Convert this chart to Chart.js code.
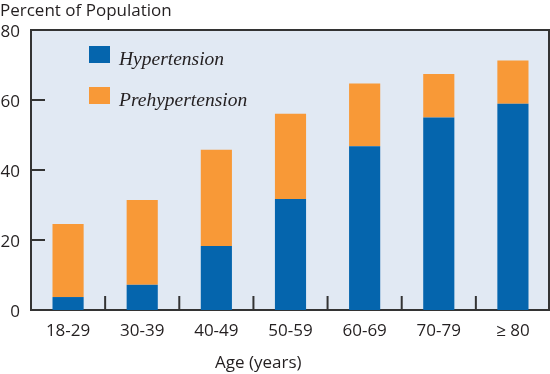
<!DOCTYPE html>
<html lang="en">
<head>
    <meta charset="UTF-8">
    <title>Hypertension by Age</title>
    <script src="https://cdn.jsdelivr.net/npm/chart.js@4/dist/chart.umd.min.js"></script>
    <style>
        html, body { margin: 0; padding: 0; background: #fff; }
        #wrap { width: 550px; height: 374px; }
    </style>
</head>
<body>
    <div id="wrap"><canvas id="bpChart"></canvas></div>

    <script>
        // Data
        const ageGroups = ['18-29', '30-39', '40-49', '50-59', '60-69', '70-79', '\u2265 80'];
        const hypertension = [3.7, 7.2, 18.3, 31.7, 46.8, 55.0, 58.9];
        const prehypertension = [20.9, 24.2, 27.5, 24.4, 17.9, 12.4, 12.4];
        const yTicks = [0, 20, 40, 60, 80];

        const textColor = '#231f20';
        const axisColor = '#333333';

        // plot background, frame, inner tick marks, legend and axis titles
        const decorations = {
            id: 'decorations',
            beforeDraw(chart) {
                const { ctx, chartArea: a } = chart;
                ctx.save();
                ctx.fillStyle = '#e1e9f3';
                ctx.fillRect(a.left, a.top, a.right - a.left, a.bottom - a.top);
                ctx.restore();
            },
            afterDraw(chart) {
                const { ctx, chartArea: a } = chart;
                const x = chart.scales.x, y = chart.scales.y;
                ctx.save();
                ctx.strokeStyle = axisColor;
                ctx.lineWidth = 2;
                // top + right frame
                const r = Math.min(a.right, chart.width - 1);
                ctx.beginPath();
                ctx.moveTo(a.left, a.top);
                ctx.lineTo(r, a.top);
                ctx.lineTo(r, a.bottom);
                ctx.stroke();
                // y tick marks pointing into the plot
                yTicks.slice(1, -1).forEach(v => {
                    const py = y.getPixelForValue(v);
                    ctx.beginPath();
                    ctx.moveTo(a.left, py);
                    ctx.lineTo(a.left + 14, py);
                    ctx.stroke();
                });
                // x tick marks between categories
                for (let i = 0; i < ageGroups.length - 1; i++) {
                    const px = (x.getPixelForValue(i) + x.getPixelForValue(i + 1)) / 2;
                    ctx.beginPath();
                    ctx.moveTo(px, a.bottom);
                    ctx.lineTo(px, a.bottom - 14);
                    ctx.stroke();
                }
                // legend inside the plot
                ctx.font = 'italic 19.5px "Liberation Serif", "Times New Roman", serif';
                ctx.textBaseline = 'alphabetic';
                chart.data.datasets.forEach((ds, i) => {
                    const top = 46 + i * 41;
                    ctx.fillStyle = ds.backgroundColor;
                    ctx.fillRect(89, top, 21, 17);
                    ctx.fillStyle = textColor;
                    ctx.fillText(ds.label, 119, top + 18.5);
                });
                // axis titles
                ctx.font = '17px "Open Sans", sans-serif';
                ctx.fillStyle = textColor;
                ctx.fillText('Percent of Population', 0, 16);
                ctx.fillText('Age (years)', 215, 368);
                ctx.restore();
            }
        };

        new Chart(document.getElementById('bpChart'), {
            type: 'bar',
            data: {
                labels: ageGroups,
                datasets: [{
                    label: 'Hypertension',
                    data: hypertension,
                    backgroundColor: '#0565ad',
                    barPercentage: 0.42,
                    categoryPercentage: 1
                }, {
                    label: 'Prehypertension',
                    data: prehypertension,
                    backgroundColor: '#f89937',
                    barPercentage: 0.42,
                    categoryPercentage: 1
                }]
            },
            options: {
                responsive: true,
                maintainAspectRatio: false,
                animation: false,
                layout: { padding: { top: 30, right: -8, bottom: 32, left: 0 } },
                plugins: {
                    legend: { display: false },
                    tooltip: { enabled: false }
                },
                scales: {
                    x: {
                        stacked: true,
                        afterFit: s => { s.height = 32; },
                        grid: { display: false, drawTicks: false },
                        border: { display: true, color: axisColor, width: 2 },
                        ticks: {
                            color: textColor,
                            padding: 11,
                            maxRotation: 0,
                            font: { family: '"Open Sans", sans-serif', size: 17 }
                        }
                    },
                    y: {
                        stacked: true,
                        min: 0,
                        max: 80,
                        afterFit: s => { s.width = 31; },
                        afterBuildTicks: s => { s.ticks = yTicks.map(v => ({ value: v })); },
                        grid: { display: false, drawTicks: false },
                        border: { display: true, color: axisColor, width: 2 },
                        ticks: {
                            color: textColor,
                            padding: 11,
                            labelOffset: 2,
                            font: { family: '"Open Sans", sans-serif', size: 17 }
                        }
                    }
                }
            },
            plugins: [decorations]
        });
    </script>
</body>
</html>
